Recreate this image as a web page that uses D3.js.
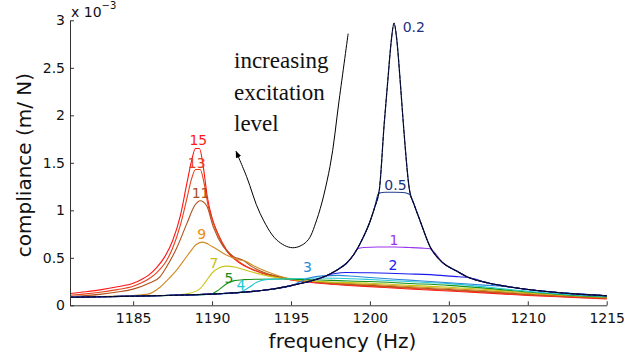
<!DOCTYPE html>
<html>
<head>
<meta charset="utf-8">
<script src="https://cdn.jsdelivr.net/npm/d3@7"></script>
<style>
  body { margin: 0; background: #fff; }
  svg { display: block; }
</style>
</head>
<body>
<svg id="chart" width="624" height="362"></svg>
<script>
// Excitation levels and their curve colours
const levels = ["0.2", "0.5", "1", "2", "3", "4", "5", "7", "9", "11", "13", "15"];
const lineColors = ["#0c1a66", "#23408f", "#9a35ee", "#1a1aee", "#2a8ad8", "#22c8d4",
                    "#169316", "#c8c414", "#d08a20", "#b0501a", "#e8401a", "#ff1414"];
const labelColors = ["#1c2f80", "#1c2f80", "#9a35ee", "#2020ee", "#2a8ad8", "#22c8d8",
                     "#1a8c1a", "#c8be10", "#ee8a10", "#a85018", "#e8401a", "#ff1a1a"];

// Measured compliance curves, [frequency Hz, compliance x1e-3 m/N]
const s02 = [[1181,0.085],[1183,0.090],[1185,0.096],[1187,0.103],[1189,0.112],[1190,0.118],[1191,0.127],[1192,0.138],[1193,0.153],[1194,0.175],[1195,0.207],[1196,0.245],[1197,0.295],[1197.5,0.333],[1198,0.38],[1198.5,0.44],[1199,0.54],[1199.5,0.69],[1200,0.88],[1200.3,1.03],[1200.6,1.22],[1200.9,1.90],[1201.15,2.40],[1201.35,2.78],[1201.53,2.97],[1201.7,2.80],[1201.9,2.40],[1202.1,1.95],[1202.5,1.22],[1202.8,1.06],[1203.2,0.88],[1203.8,0.62],[1204.6,0.45],[1205.5,0.36],[1206.3,0.29],[1207.5,0.235],[1209,0.19],[1211,0.148],[1213,0.12],[1215,0.10]];
const s05 = [[1181,0.085],[1183,0.090],[1185,0.096],[1187,0.103],[1189,0.112],[1190,0.118],[1191,0.127],[1192,0.138],[1193,0.153],[1194,0.175],[1195,0.207],[1196,0.245],[1197,0.295],[1197.5,0.333],[1198,0.38],[1198.5,0.44],[1199,0.54],[1199.5,0.69],[1200,0.88],[1200.3,1.03],[1200.55,1.18],[1201,1.19],[1201.6,1.19],[1202.1,1.188],[1202.5,1.17],[1202.8,1.06],[1203.2,0.88],[1203.8,0.62],[1204.6,0.45],[1205.5,0.36],[1206.3,0.29],[1207.5,0.235],[1209,0.19],[1211,0.148],[1213,0.12],[1215,0.10]];
const s1 = [[1181,0.085],[1183,0.090],[1185,0.096],[1187,0.103],[1189,0.112],[1190,0.118],[1191,0.127],[1192,0.138],[1193,0.153],[1194,0.175],[1195,0.207],[1196,0.245],[1197,0.295],[1197.5,0.333],[1198,0.38],[1198.5,0.44],[1199,0.54],[1199.2,0.595],[1199.6,0.608],[1200.5,0.613],[1201.5,0.613],[1202.5,0.608],[1203.3,0.602],[1203.8,0.595],[1204.6,0.45],[1205.5,0.36],[1206.3,0.29],[1207.5,0.235],[1209,0.19],[1211,0.148],[1213,0.12],[1215,0.10]];
const s2 = [[1181,0.085],[1183,0.090],[1185,0.096],[1187,0.103],[1189,0.112],[1190,0.118],[1191,0.127],[1192,0.138],[1193,0.153],[1194,0.175],[1195,0.207],[1196,0.245],[1197,0.295],[1197.3,0.315],[1197.8,0.335],[1198.5,0.345],[1200,0.342],[1202.5,0.33],[1204.5,0.315],[1205.6,0.30],[1206.3,0.29],[1207.5,0.235],[1209,0.19],[1211,0.148],[1213,0.12],[1215,0.10]];
const s3 = [[1181,0.085],[1183,0.090],[1185,0.096],[1187,0.103],[1189,0.112],[1191,0.127],[1193,0.153],[1194,0.175],[1195,0.207],[1195.6,0.25],[1196.2,0.29],[1197,0.31],[1198,0.315],[1199,0.305],[1200,0.292],[1202.5,0.265],[1205,0.238],[1207,0.215],[1208.5,0.198],[1210,0.165],[1212.5,0.128],[1215,0.097]];
const s4 = [[1181,0.085],[1185,0.096],[1188,0.107],[1190,0.118],[1191.2,0.128],[1191.8,0.14],[1192.3,0.185],[1192.8,0.24],[1193.3,0.268],[1194,0.275],[1195,0.278],[1196,0.285],[1197,0.288],[1198,0.285],[1200,0.272],[1202.5,0.25],[1205,0.228],[1207.5,0.19],[1210,0.148],[1212.5,0.115],[1215,0.093]];
const s5 = [[1181,0.085],[1185,0.096],[1188,0.107],[1189.9,0.118],[1190.4,0.16],[1190.9,0.225],[1191.4,0.26],[1192,0.27],[1193,0.275],[1194,0.277],[1195,0.276],[1196,0.272],[1197.5,0.262],[1200,0.25],[1202.5,0.23],[1205,0.21],[1207.5,0.178],[1210,0.14],[1212.5,0.11],[1215,0.089]];
const s7 = [[1181,0.086],[1184,0.093],[1186,0.099],[1187.5,0.106],[1188.5,0.125],[1189.2,0.17],[1189.6,0.25],[1190,0.34],[1190.4,0.39],[1190.9,0.412],[1191.5,0.40],[1192.4,0.355],[1193.3,0.318],[1194.1,0.292],[1195,0.272],[1196,0.258],[1197.5,0.245],[1200,0.232],[1202.5,0.21],[1205,0.19],[1207.5,0.165],[1210,0.132],[1212.5,0.105],[1215,0.085]];
const s9 = [[1181,0.085],[1183,0.092],[1185,0.103],[1186,0.12],[1186.7,0.19],[1187.2,0.27],[1187.75,0.37],[1188.2,0.47],[1188.6,0.56],[1189,0.64],[1189.4,0.665],[1190,0.62],[1190.9,0.53],[1191.7,0.48],[1192.1,0.465],[1192.6,0.42],[1193.45,0.355],[1194.2,0.312],[1195,0.278],[1196,0.258],[1197.5,0.24],[1200,0.22],[1202.5,0.197],[1205,0.177],[1207.5,0.152],[1210,0.124],[1212.5,0.10],[1215,0.081]];
const s11 = [[1181,0.090],[1183,0.118],[1184,0.14],[1185,0.17],[1186,0.232],[1186.7,0.30],[1187.1,0.40],[1187.75,0.60],[1188.4,0.86],[1188.9,1.05],[1189.25,1.10],[1189.65,1.05],[1190.07,0.83],[1190.7,0.62],[1191.3,0.52],[1192,0.47],[1192.5,0.41],[1193.3,0.345],[1194,0.31],[1195,0.275],[1196,0.255],[1197.5,0.235],[1200,0.21],[1202.5,0.188],[1205,0.166],[1207.5,0.143],[1210,0.117],[1212.5,0.095],[1215,0.077]];
const s13 = [[1181,0.105],[1182,0.12],[1183,0.14],[1184,0.165],[1185,0.20],[1185.5,0.235],[1186,0.28],[1186.5,0.345],[1187,0.44],[1187.5,0.60],[1188,0.85],[1188.4,1.12],[1188.7,1.33],[1188.95,1.43],[1189.25,1.43],[1189.5,1.28],[1189.75,1.05],[1190.05,0.88],[1190.4,0.74],[1190.9,0.59],[1191.7,0.46],[1192.5,0.385],[1193.3,0.335],[1194,0.305],[1195,0.27],[1196,0.25],[1197.5,0.228],[1200,0.203],[1202.5,0.18],[1205,0.158],[1207.5,0.136],[1210,0.11],[1212.5,0.09],[1215,0.072]];
const s15 = [[1181,0.125],[1182,0.143],[1183,0.165],[1184,0.195],[1185,0.232],[1185.5,0.27],[1186,0.32],[1186.5,0.40],[1187,0.51],[1187.5,0.68],[1188,0.95],[1188.4,1.28],[1188.7,1.52],[1188.95,1.65],[1189.2,1.65],[1189.45,1.45],[1189.7,1.14],[1190,0.92],[1190.3,0.78],[1190.9,0.58],[1191.7,0.45],[1192.5,0.38],[1193.3,0.33],[1194,0.30],[1195,0.268],[1196,0.245],[1197.5,0.222],[1200,0.197],[1202.5,0.172],[1205,0.15],[1207.5,0.128],[1210,0.104],[1212.5,0.085],[1215,0.068]];
const seriesData = [s02, s05, s1, s2, s3, s4, s5, s7, s9, s11, s13, s15];

// Where each level's number is written, [frequency Hz, compliance]
const labelAt = [[1202.78,2.88],[1201.62,1.214],[1201.53,0.635],[1201.46,0.372],[1196.05,0.354],[1191.83,0.161],
                 [1191.07,0.232],[1190.12,0.39],[1189.34,0.695],[1189.27,1.126],[1189.03,1.442],[1189.13,1.687]];

// Hand-drawn trend arrow, from its tail to its head
const trendArrow = [[1198.62,2.86],[1198.05,2.16],[1197.47,1.46],[1196.63,0.90],[1195.99,0.67],[1195.1,0.606],
                    [1194.1,0.687],[1193.04,0.968],[1192.19,1.354],[1191.52,1.62]];
const noteLines = ["increasing", "excitation", "level"];

const xTicks = [1185, 1190, 1195, 1200, 1205, 1210, 1215];
const yTicks = [0, 0.5, 1, 1.5, 2, 2.5, 3];

const svg = d3.select("#chart");
const x = d3.scaleLinear().domain([1181, 1215]).range([70, 606.7]);
const y = d3.scaleLinear().domain([0, 3]).range([305.3, 20.3]);

const line = d3.line().x(d => x(d[0])).y(d => y(d[1])).curve(d3.curveMonotoneX);

// Curves: highest level first so the low-level (linear) curve sits on top
const plot = svg.append("g");
for (let i = seriesData.length - 1; i >= 0; i--) {
  plot.append("path")
    .datum(seriesData[i])
    .attr("d", line)
    .attr("fill", "none")
    .attr("stroke", lineColors[i])
    .attr("stroke-width", i === 0 ? 1.2 : 1.1)
    .attr("stroke-linejoin", "round");
}
// linear response drawn in black dashes along the lowest level
plot.append("path")
  .datum(s02)
  .attr("d", line)
  .attr("fill", "none")
  .attr("stroke", "#000")
  .attr("stroke-width", 0.8)
  .attr("stroke-dasharray", "4,1.5");

// Level numbers
svg.append("g").selectAll("text")
  .data(levels)
  .join("text")
  .attr("x", (d, i) => x(labelAt[i][0]))
  .attr("y", (d, i) => y(labelAt[i][1]))
  .attr("text-anchor", "middle")
  .attr("font-family", "DejaVu Sans, sans-serif")
  .attr("font-size", 14)
  .attr("fill", (d, i) => labelColors[i])
  .text(d => d);

// Arrow annotation
const defs = svg.append("defs");
defs.append("marker")
  .attr("id", "head")
  .attr("viewBox", "0 0 10 10")
  .attr("refX", 9).attr("refY", 5)
  .attr("markerWidth", 7).attr("markerHeight", 7)
  .attr("markerUnits", "userSpaceOnUse")
  .attr("orient", "auto")
  .append("path")
  .attr("d", "M0,1 L10,5 L0,9 z")
  .attr("fill", "#000");

svg.append("path")
  .datum(trendArrow)
  .attr("d", d3.line().x(d => x(d[0])).y(d => y(d[1])).curve(d3.curveCatmullRom))
  .attr("fill", "none")
  .attr("stroke", "#000")
  .attr("stroke-width", 1)
  .attr("marker-end", "url(#head)");

svg.append("g").selectAll("text")
  .data(noteLines)
  .join("text")
  .attr("x", 234)
  .attr("y", (d, i) => 68 + i * 31.5)
  .attr("font-family", "Liberation Serif, serif")
  .attr("font-size", 23)
  .attr("fill", "#111")
  .text(d => d);

// Axes with inward ticks
const xAxis = svg.append("g")
  .attr("transform", `translate(0,${y(0)})`)
  .call(d3.axisBottom(x).tickValues(xTicks).tickFormat(d3.format("d"))
        .tickSize(-4).tickSizeOuter(0).tickPadding(8));
const yAxis = svg.append("g")
  .attr("transform", `translate(${x(1181)},0)`)
  .call(d3.axisLeft(y).tickValues(yTicks).tickFormat(d => String(d))
        .tickSize(-4).tickSizeOuter(0).tickPadding(5));
[xAxis, yAxis].forEach(g => {
  g.selectAll("path, line").attr("stroke", "#333").attr("stroke-width", 1);
  g.selectAll("text").attr("font-family", "DejaVu Sans, sans-serif")
    .attr("font-size", 14).attr("fill", "#111");
});

// Exponent note above the y axis
const expo = svg.append("text")
  .attr("x", 71).attr("y", 17)
  .attr("font-family", "DejaVu Sans, sans-serif")
  .attr("font-size", 14).attr("fill", "#111");
expo.append("tspan").text("x 10");
expo.append("tspan").attr("dy", -8).attr("font-size", 10).text("−3");

// Axis titles
svg.append("text")
  .attr("x", 342.5).attr("y", 348)
  .attr("text-anchor", "middle")
  .attr("font-family", "DejaVu Sans, sans-serif")
  .attr("font-size", 20).attr("fill", "#111")
  .text("frequency (Hz)");
svg.append("text")
  .attr("transform", "translate(30.5,165) rotate(-90)")
  .attr("text-anchor", "middle")
  .attr("font-family", "DejaVu Sans, sans-serif")
  .attr("font-size", 20).attr("fill", "#111")
  .text("compliance (m/ N)");
</script>
</body>
</html>
